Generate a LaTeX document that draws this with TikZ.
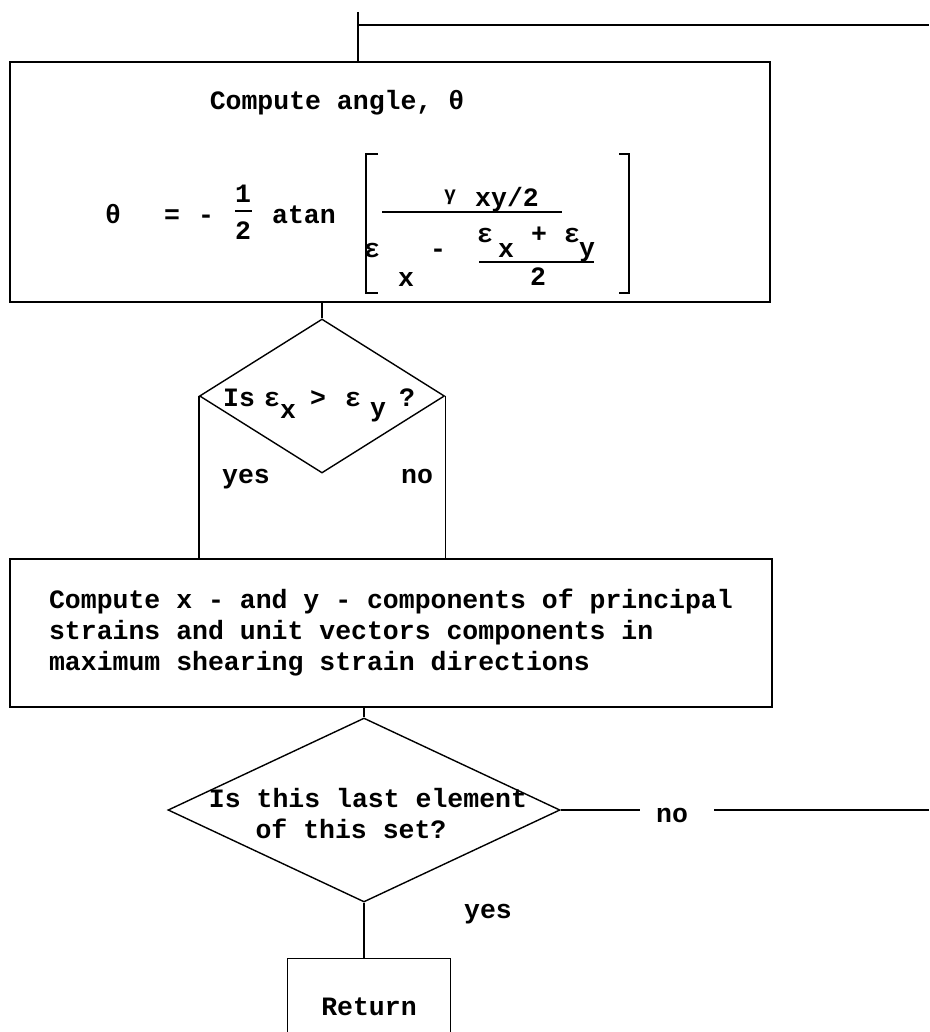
\documentclass[tikz,border=0pt]{standalone}
\usepackage{fontspec}
\setmainfont{Liberation Mono}
\usetikzlibrary{shapes.geometric}
\begin{document}
\begin{tikzpicture}[x=1pt,y=-1pt,
  line width=1.4pt,
  every node/.style={font=\fontsize{26.5}{31}\selectfont\bfseries, inner sep=0pt},
  txt/.style={anchor=base},
  small/.style={anchor=base, font=\fontsize{20}{24}\selectfont\bfseries},
  procbox/.style={draw, rectangle},
  decision/.style={draw, diamond}
]
\useasboundingbox (0,0) rectangle (929,1032);

% ---------- box 1 ----------
\node[procbox, minimum width=760pt, minimum height=240pt] (box1) at (390,182) {};
\node[txt] (t1) at (337,110) {Compute angle, θ};
% equation
\node[txt] (eqth) at (113,223) {θ};
\node[txt] (eqeq) at (172,223) {=};
\node[txt] (eqmin) at (206,223) {-};
\node[txt] (eqone) at (243,203) {1};
\draw[line width=1.2pt] (235,211) -- (252,211);
\node[txt] (eqtwo) at (243,240) {2};
\node[txt] (eqatan) at (304,223) {atan};
% brackets
\draw (378,154) -- (366,154) -- (366,293) -- (378,293);
\draw (619,154) -- (629,154) -- (629,293) -- (619,293);
% numerator
\node[small] (gam) at (450,201) {γ};
\node[txt] (gxy) at (507,207) {xy/2};
\draw (382,212) -- (562,212);
% denominator
\node[txt] (de1) at (372,258) {ε};
\node[txt] (dx1) at (406,286) {x};
\node[txt] (dmin) at (438,258) {-};
\node[txt] (ie1) at (485,243) {ε};
\node[txt] (ix1) at (506,258) {x};
\node[txt] (iplus) at (539,243) {+};
\node[txt] (ie2) at (572,243) {ε};
\node[txt] (iy2) at (587,256) {y};
\draw (479,262) -- (594,262);
\node[txt] (itwo) at (538,285) {2};

% ---------- decision 1 ----------
\node[decision, minimum width=245pt, minimum height=154pt] (d1) at (322,396) {};
\node[txt] (q1a) at (239,406) {Is};
\node[txt] (q1b) at (272,406) {ε};
\node[txt] (q1c) at (288,418) {x};
\node[txt] (q1d) at (318,406) {>};
\node[txt] (q1e) at (353,406) {ε};
\node[txt] (q1f) at (378,416) {y};
\node[txt] (q1g) at (407,406) {?};
\node[txt] (yes1) at (246,483) {yes};
\node[txt] (no1) at (417,483) {no};

% ---------- box 2 ----------
\node[procbox, minimum width=762pt, minimum height=148pt, align=left] (box2) at (391,633)
  {Compute x - and y - components of principal\\strains and unit vectors components in\\maximum shearing strain directions};

% ---------- decision 2 ----------
\node[decision, minimum width=392pt, minimum height=184pt] (d2) at (364,810) {};
\node[txt] (q2a) at (368,807) {Is this last element};
\node[txt] (q2b) at (351,838) {of this set?};
\node[txt] (no2) at (672,822) {no};
\node[txt] (yes2) at (488,918) {yes};

% ---------- return ----------
\node[minimum width=162pt, minimum height=100pt] (ret) at (369,1009) {};
\node[txt] (rettxt) at (369,1015) {Return};
\draw (ret.south west) -- (ret.north west) -- (ret.north east) -- (ret.south east);

% ---------- connectors ----------
\coordinate (entry) at (358,12);
\coordinate (loopR) at (929,25);
\coordinate (loopR2) at (929,810);
\coordinate (nol) at (640,810);
\coordinate (nor) at (714,810);
\draw (entry) -- (entry |- box1.north);
\draw (entry |- loopR) -- (loopR);
\draw (d1.north |- box1.south) -- (d1.north);
\draw (d1.west) -- (d1.west |- box2.north);
\draw (d1.east) -- (d1.east |- box2.north);
\draw (d2.north |- box2.south) -- (d2.north);
\draw (d2.east) -- (nol);
\draw (nor) -- (loopR2);
\draw (d2.south) -- (d2.south |- ret.north);
\end{tikzpicture}
\end{document}
